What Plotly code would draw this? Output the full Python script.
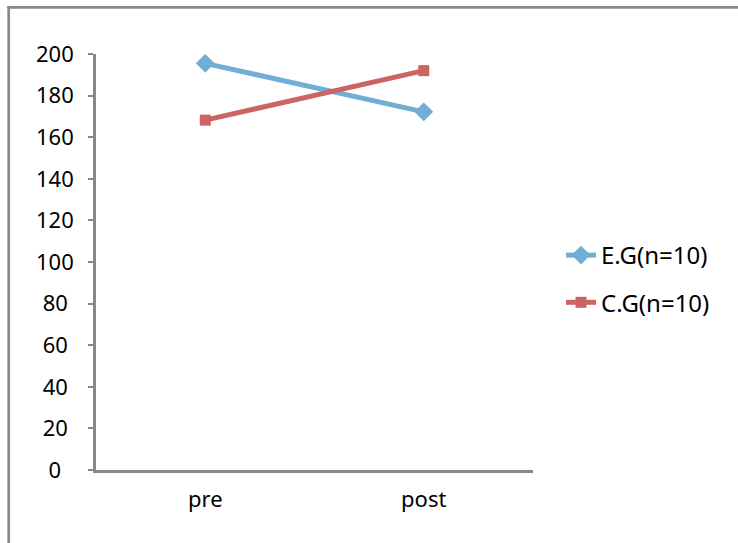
import plotly.graph_objects as go

# ---- data ----
categories = ["pre", "post"]
eg_name = "E.G(n=10)"
eg_values = [195.5, 172.2]
cg_name = "C.G(n=10)"
cg_values = [168.2, 192.0]
y_tick_values = [0, 20, 40, 60, 80, 100, 120, 140, 160, 180, 200]

# ---- styling ----
W, H = 738, 543
ML, MR, MT, MB = 96, 205, 54, 73
PW, PH = W - ML - MR, H - MT - MB
BLUE = "#70AED3"
RED = "#CC6464"
AXIS = "#888888"
FONT = "Noto Sans"

def px_x(x):
    return (x - ML) / PW

def px_y(y):
    return (H - MB - y) / PH

# centre the tick labels like the original (pad shorter ones on the right)
def pad(v):
    s = str(v)
    return s + {1: "\u2007", 2: "\u2008", 3: ""}[len(s)]

y_tick_text = [pad(v) for v in y_tick_values]

fig = go.Figure()
fig.add_trace(go.Scatter(
    x=categories, y=eg_values, name=eg_name, mode="lines+markers",
    line=dict(color=BLUE, width=5),
    marker=dict(symbol="diamond", size=14.5, color=BLUE),
    legendgroup="eg",
))
fig.add_trace(go.Scatter(
    x=categories, y=cg_values, name=cg_name, mode="lines+markers",
    line=dict(color=RED, width=5),
    marker=dict(symbol="square", size=11, color=RED),
    legendgroup="cg",
))

fig.update_layout(
    width=W, height=H,
    margin=dict(l=ML, r=MR, t=MT, b=MB, pad=0),
    paper_bgcolor="white", plot_bgcolor="white",
    font=dict(family=FONT, size=22, color="#000000"),
    showlegend=True,
    legend=dict(
        x=px_x(561), xanchor="left",
        y=px_y(233), yanchor="top",
        font=dict(family=FONT, size=24, color="#000000"),
        tracegroupgap=13,
        bgcolor="rgba(0,0,0,0)",
    ),
    xaxis=dict(
        type="category", range=[-0.5, 1.5],
        showline=True, linecolor=AXIS, linewidth=2.7,
        showgrid=False, zeroline=False, ticks="",
        ticklabelstandoff=8,
        tickfont=dict(family=FONT, size=22, color="#000000"),
    ),
    yaxis=dict(
        range=[0, 200],
        tickvals=y_tick_values, ticktext=y_tick_text,
        showline=True, linecolor=AXIS, linewidth=2.7,
        showgrid=False, zeroline=False,
        ticks="outside", ticklen=5, tickwidth=2, tickcolor=AXIS,
        ticklabelstandoff=10,
        tickfont=dict(family=FONT, size=22, color="#000000"),
    ),
    yaxis2=dict(
        overlaying="y", matches="y", range=[0, 200], side="left",
        tickvals=y_tick_values, showticklabels=False,
        showline=False, showgrid=False, zeroline=False,
        ticks="inside", ticklen=4, tickwidth=2, tickcolor=AXIS,
    ),
    shapes=[
        dict(type="line", xref="paper", yref="paper",
             x0=px_x(7.4), x1=px_x(742), y0=px_y(7.3), y1=px_y(7.3),
             line=dict(color="#898989", width=2.7)),
        dict(type="line", xref="paper", yref="paper",
             x0=px_x(8.7), x1=px_x(8.7), y0=px_y(6), y1=px_y(548),
             line=dict(color="#898989", width=2.7)),
    ],
)

fig.write_html("out.html")
